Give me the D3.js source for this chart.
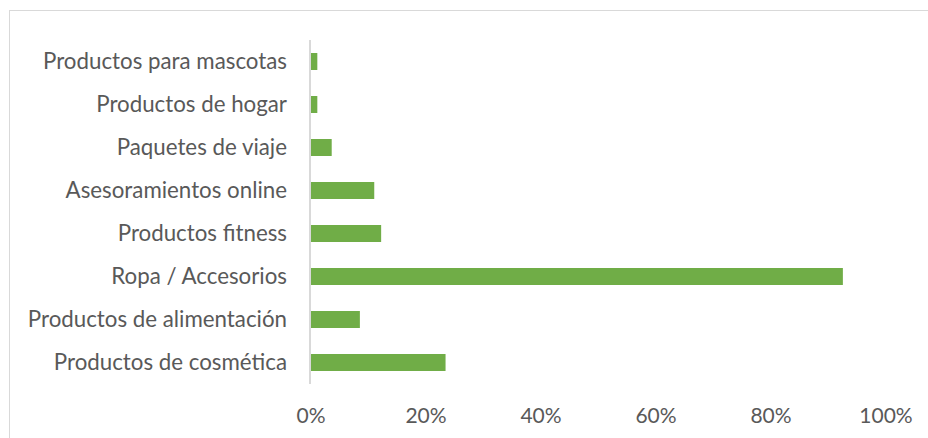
<!DOCTYPE html>
<html>
<head>
<meta charset="utf-8">
<script src="https://cdn.jsdelivr.net/npm/d3@7"></script>
<style>
  html, body { margin: 0; padding: 0; background: #fff; }
  svg { display: block; }
  text { font-family: Lato, "Open Sans", sans-serif; fill: #595959; }
</style>
</head>
<body>
<svg id="chart" width="928" height="438"></svg>
<script>
// Product categories, top to bottom
const categories = [
  "Productos para mascotas",
  "Productos de hogar",
  "Paquetes de viaje",
  "Asesoramientos online",
  "Productos fitness",
  "Ropa / Accesorios",
  "Productos de alimentación",
  "Productos de cosmética"
];
// Share of respondents per category (fraction)
const shares = [0.011, 0.011, 0.036, 0.110, 0.122, 0.925, 0.085, 0.234];
// X axis ticks
const tickValues = [0, 0.2, 0.4, 0.6, 0.8, 1.0];

const svg = d3.select("#chart");

// Chart frame
svg.append("rect")
  .attr("x", 9.5).attr("y", 10.5)
  .attr("width", 940).attr("height", 440)
  .attr("fill", "none").attr("stroke", "#d9d9d9").attr("stroke-width", 1);

const x = d3.scaleLinear().domain([0, 1]).range([311, 886]);
const y = d3.scaleBand().domain(categories).range([40, 384]).paddingInner(0.605).paddingOuter(0.3025);

// Bars
svg.append("g").selectAll("rect")
  .data(categories)
  .join("rect")
  .attr("x", x(0))
  .attr("y", d => y(d))
  .attr("width", (d, i) => x(shares[i]) - x(0))
  .attr("height", y.bandwidth())
  .attr("fill", "#70ad47");

// Category axis line
svg.append("line")
  .attr("x1", 310).attr("x2", 310)
  .attr("y1", 40).attr("y2", 384)
  .attr("stroke", "#d9d9d9").attr("stroke-width", 2);

// Category labels
svg.append("g").selectAll("text")
  .data(categories)
  .join("text")
  .attr("x", 287)
  .attr("y", d => y(d) + y.bandwidth() / 2)
  .attr("dy", "0.35em")
  .attr("text-anchor", "end")
  .style("font-size", "22.3px")
  .text(d => d);

// Percentage axis labels
const fmt = d3.format(".0%");
svg.append("g").selectAll("text")
  .data(tickValues)
  .join("text")
  .attr("x", d => x(d))
  .attr("y", 423)
  .attr("text-anchor", "middle")
  .style("font-size", "21px")
  .text(d => fmt(d));
</script>
</body>
</html>
